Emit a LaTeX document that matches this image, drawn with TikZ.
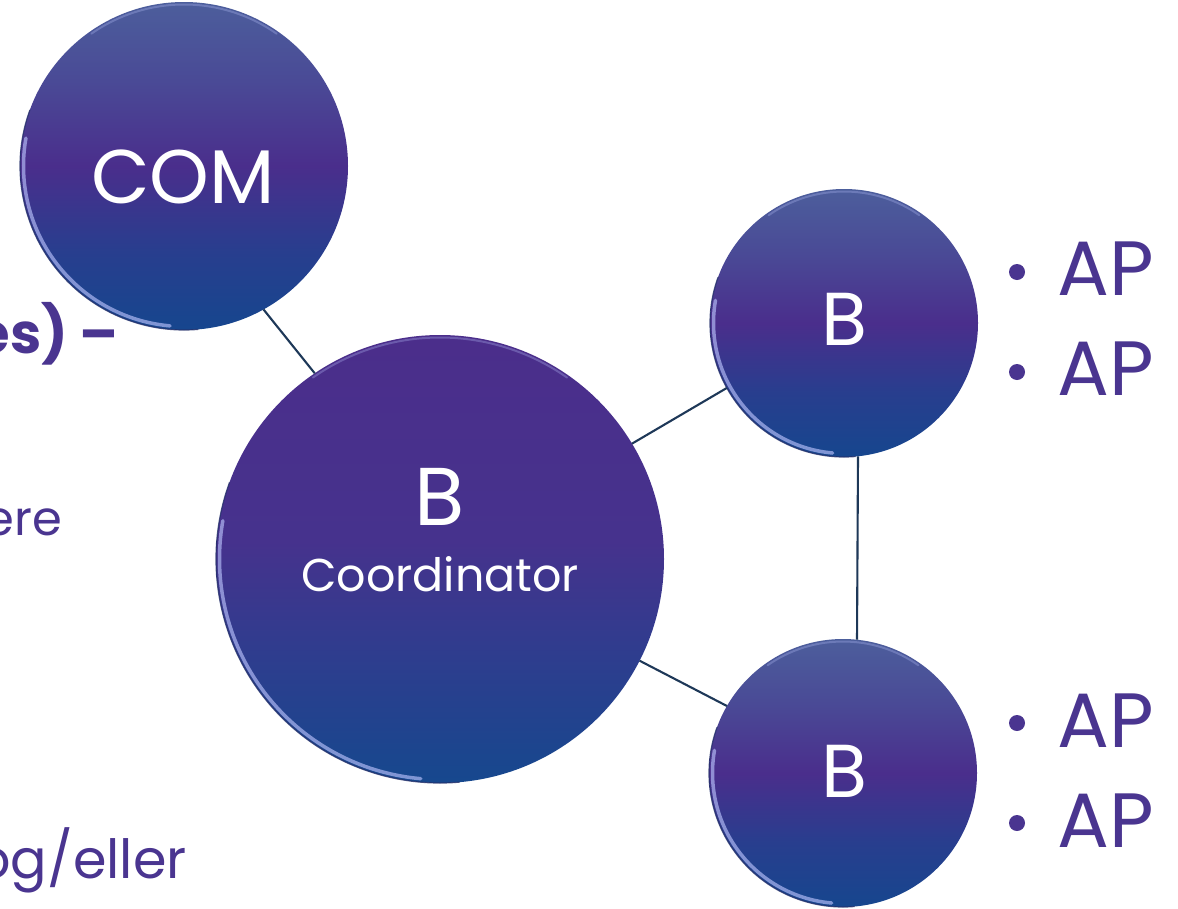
\documentclass[tikz,border=0pt]{standalone}
\usepackage{fontspec}
\setmainfont{Poppins}
\definecolor{txtpurple}{HTML}{4A3590}
\definecolor{linkcol}{HTML}{1E3858}
\definecolor{rim}{HTML}{B8C0FA}
\definecolor{edgedark}{HTML}{24306A}
\pgfdeclareverticalshading{smallball}{100bp}{
  color(0bp)=(rgb,255:red,22;green,70;blue,142);
  color(25bp)=(rgb,255:red,22;green,70;blue,142);
  color(37bp)=(rgb,255:red,40;green,62;blue,142);
  color(50bp)=(rgb,255:red,74;green,46;blue,140);
  color(63bp)=(rgb,255:red,74;green,74;blue,150);
  color(75bp)=(rgb,255:red,76;green,94;blue,156);
  color(100bp)=(rgb,255:red,76;green,94;blue,156)}
\pgfdeclareverticalshading{bigballsh}{100bp}{
  color(0bp)=(rgb,255:red,22;green,72;blue,142);
  color(25bp)=(rgb,255:red,22;green,72;blue,142);
  color(38bp)=(rgb,255:red,44;green,62;blue,142);
  color(52bp)=(rgb,255:red,70;green,50;blue,141);
  color(75bp)=(rgb,255:red,75;green,46;blue,139);
  color(100bp)=(rgb,255:red,75;green,46;blue,139)}
\tikzset{
  ball/.style={circle, inner sep=0pt, outer sep=0pt, draw=none, shading=smallball},
  bigball/.style={circle, inner sep=0pt, outer sep=0pt, draw=none, shading=bigballsh},
  link/.style={draw=linkcol, line width=2.1pt},
  lbl/.style={text=white, inner sep=0pt, anchor=base},
  side/.style={text=txtpurple, inner sep=0pt},
  dot/.style={circle, fill=txtpurple, inner sep=0pt, minimum size=16pt},
  rimlight/.style={draw=rim, line width=3.5pt, opacity=0.65, line cap=round},
  rimedge/.style={draw=edgedark, line width=1.2pt, opacity=0.8},
  rimtop/.style={draw=rim, line width=2pt, opacity=0.3, line cap=round}
}
\newcommand{\fsz}[1]{\fontsize{#1}{#1}\selectfont}
\newcommand{\rims}[3]{% x, y, r
  \draw[rimedge] (#1,#2) ++(85:#3) arc[start angle=85, end angle=200, radius=#3];
  \draw[rimlight] (#1,#2) ++(95:#3-3.5) arc[start angle=95, end angle=190, radius=#3-3.5];
  \draw[rimtop] (#1,#2) ++(235:#3-2.5) arc[start angle=235, end angle=305, radius=#3-2.5];
}
\begin{document}
\begin{tikzpicture}[x=1pt,y=-1pt]
\useasboundingbox (0,0) rectangle (1178,908);
\clip (0,0) rectangle (1178,908);

% circles
\node[ball, minimum size=328pt] (com) at (184,166) {};
\node[bigball, minimum size=448pt] (coord) at (440,559) {};
\node[ball, minimum size=268pt] (bt) at (844,323) {};
\node[ball, minimum size=268pt] (bb) at (843,773) {};

% rim highlights
\rims{184}{166}{164}
\rims{440}{559}{224}
\rims{844}{323}{134}
\rims{843}{773}{134}

% connectors
\draw[link] (com.-61.8) -- (coord.124.3);
\draw[link] (coord.31.4) -- (bt.209);
\draw[link] (coord.-27.2) -- (bb.150.6);
\draw[link] (bt.-84.4) -- (bb.84.4);

% circle labels
\node[lbl, font=\fsz{76}] (tcom) at (183,203) {COM};
\node[lbl, font=\fsz{82}] (tcoordb) at (440,525) {B};
\node[lbl, font=\fsz{46}] (tcoord) at (440,591) {Coordinator};
\node[lbl, font=\fsz{75}] (tbt) at (844,345) {B};
\node[lbl, font=\fsz{75}] (tbb) at (844,797) {B};

% bullets
\node[dot] (d1) at (1017,272) {};
\node[dot] (d2) at (1017,372) {};
\node[dot] (d3) at (1017,723) {};
\node[dot] (d4) at (1017,823) {};
\node[side, anchor=base west, font=\fsz{77}] (ap1) at (1057,295) {AP};
\node[side, anchor=base west, font=\fsz{77}] (ap2) at (1057,395) {AP};
\node[side, anchor=base west, font=\fsz{77}] (ap3) at (1057,747) {AP};
\node[side, anchor=base west, font=\fsz{77}] (ap4) at (1057,847) {AP};

% cut-off side texts
\node[side, anchor=base east, font=\fsz{56}\bfseries] (s1) at (119,353) {es) –};
\node[side, anchor=base east, font=\fsz{48}] (s2) at (62,535) {ere};
\node[side, anchor=base east, font=\fsz{54}] (s3) at (187,878) {og/eller};
\end{tikzpicture}
\end{document}
